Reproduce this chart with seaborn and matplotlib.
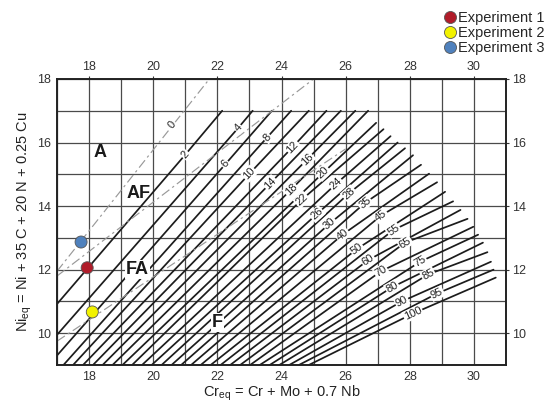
"""
WRC-1992 constitution diagram with three experimental welds
"""
import numpy as np
import pandas as pd
import matplotlib
matplotlib.use("Agg")
import matplotlib.pyplot as plt
import seaborn as sns

sns.set_style("white")
plt.rcParams["font.family"] = ["Liberation Sans", "DejaVu Sans"]
plt.rcParams["mathtext.default"] = "regular"

# ---- data ----
fn_values = [2, 4, 6, 8, 10, 12, 14, 16, 18, 20, 22, 24, 26, 28, 30,
             35, 40, 45, 50, 55, 60, 65, 70, 75, 80, 85, 90, 95, 100]
start_cr = [17.0, 17.0, 17.0, 17.2, 17.5, 17.81, 18.12, 18.42, 18.73, 19.04, 19.34, 19.65, 19.95, 20.26, 20.57,
            20.87, 21.18, 21.48, 21.79, 22.1, 22.4, 22.71, 23.02, 23.32, 23.63, 23.93, 24.24, 24.54, 24.85]
start_ni = [10.92, 9.95, 9.3, 9.0, 9.0, 9.0, 9.0, 9.0, 9.0, 9.0, 9.0, 9.0, 9.0, 9.0, 9.0,
            9.0, 9.0, 9.0, 9.0, 9.0, 9.0, 9.0, 9.0, 9.0, 9.0, 9.0, 9.0, 9.0, 9.0]
label_cr = [21.0, 22.65, 22.25, 23.55, 23.0, 24.35, 23.65, 24.8, 24.3, 25.3, 24.63, 25.7, 25.1, 26.1, 25.5,
            26.6, 25.9, 27.1, 26.35, 27.49, 26.7, 27.85, 27.1, 28.32, 27.45, 28.57, 27.75, 28.85, 28.1]
label_ni = [15.62, 16.46, 15.32, 16.16, 15.02, 15.86, 14.72, 15.47, 14.52, 15.05, 14.2, 14.7, 13.75, 14.4, 13.45,
            14.1, 13.1, 13.7, 12.65, 13.25, 12.3, 12.85, 11.95, 12.25, 11.45, 11.85, 11.0, 11.25, 10.62]
end_cr = [22.15, 23.1, 23.7, 24.3, 24.85, 25.4, 25.85, 26.3, 26.7, 26.95, 27.18, 27.4, 27.62, 27.85, 28.1,
          28.35, 28.6, 28.85, 29.1, 29.35, 29.58, 29.8, 29.98, 30.13, 30.28, 30.42, 30.53, 30.61, 30.68]
end_ni = [17.0, 17.0, 17.0, 17.0, 17.0, 17.0, 17.0, 17.0, 17.0, 16.62, 16.42, 16.2, 16.0, 15.82, 15.6,
          15.3, 15.02, 14.75, 14.45, 14.15, 13.88, 13.6, 13.35, 13.1, 12.85, 12.55, 12.25, 12.0, 11.75]

# dashed phase boundaries (FN 0 / A-AF, AF-FA, FA-F)
boundary_names = ["A/AF", "AF/FA", "FA/F"]
boundary_cr = [[17.0, 21.75], [17.0, 25.0], [17.0, 26.0]]
boundary_ni = [[11.95, 18.0], [11.8, 18.0], [9.75, 15.8]]
zero_label = (20.6, 16.55)

regions = ["A", "AF", "FA", "F"]
region_cr = [18.35, 19.55, 19.5, 22.0]
region_ni = [15.7, 14.4, 12.0, 10.35]
region_boxed = [False, False, True, True]

experiments = ["Experiment 1", "Experiment 2", "Experiment 3"]
exp_cr = [17.94, 18.1, 17.75]
exp_ni = [12.06, 10.67, 12.87]
exp_colors = ["#b01c2a", "#f2f200", "#4f81bd"]

x_ticks = [18, 20, 22, 24, 26, 28, 30]
y_ticks = [10, 12, 14, 16, 18]


def main():
    fig = plt.figure(figsize=(5.52, 4.04), dpi=100)
    ax = fig.add_axes([0.1033, 0.0965, 0.8134, 0.708])
    ax.set_xlim(17, 31)
    ax.set_ylim(9, 18)

    # grid every unit
    ax.set_xticks(x_ticks)
    ax.set_xticks(np.arange(17, 32, 1), minor=True)
    ax.set_yticks(y_ticks)
    ax.set_yticks(np.arange(9, 19, 1), minor=True)
    ax.grid(True, which="both", color="#4a4a4a", lw=0.9, zorder=0)
    ax.set_axisbelow(True)
    ax.tick_params(which="both", top=True, right=True, labeltop=True, labelright=True,
                   direction="out", length=2.5, width=0.8, color="#333333",
                   labelsize=9, labelcolor="#333333", pad=2)
    ax.tick_params(which="minor", length=0)
    for sp in ax.spines.values():
        sp.set_color("#222222")
        sp.set_linewidth(1.4)

    # FN iso-lines
    rows = []
    for i, fn in enumerate(fn_values):
        rows.append((fn, 0, start_cr[i], start_ni[i]))
        rows.append((fn, 1, label_cr[i], label_ni[i]))
        rows.append((fn, 2, end_cr[i], end_ni[i]))
    fn_df = pd.DataFrame(rows, columns=["fn", "order", "cr", "ni"])
    sns.lineplot(data=fn_df, x="cr", y="ni", units="fn", estimator=None, sort=False,
                 color="#1c1c1c", lw=1.25, ax=ax, zorder=2)

    # boundaries
    for name, bx, by in zip(boundary_names, boundary_cr, boundary_ni):
        bdf = pd.DataFrame({"cr": bx, "ni": by})
        sns.lineplot(data=bdf, x="cr", y="ni", sort=False, color="#999999", lw=0.85,
                     ax=ax, zorder=2, linestyle=(0, (8, 3, 2, 3)))

    fig.canvas.draw()

    def disp_angle(p0, p1):
        d0 = ax.transData.transform(p0)
        d1 = ax.transData.transform(p1)
        return np.degrees(np.arctan2(d1[1] - d0[1], d1[0] - d0[0]))

    box = dict(boxstyle="square,pad=0.08", fc="white", ec="none")
    for i, fn in enumerate(fn_values):
        ang = disp_angle((start_cr[i], start_ni[i]), (end_cr[i], end_ni[i]))
        ax.text(label_cr[i], label_ni[i], str(fn), rotation=ang, rotation_mode="anchor",
                ha="center", va="center", fontsize=8, color="#222222", bbox=box, zorder=3)
    ang0 = disp_angle((boundary_cr[0][0], boundary_ni[0][0]), (boundary_cr[0][1], boundary_ni[0][1]))
    ax.text(zero_label[0], zero_label[1], "0", rotation=ang0, rotation_mode="anchor",
            ha="center", va="center", fontsize=8, color="#222222", bbox=box, zorder=3)

    for r, cx, cy, boxed in zip(regions, region_cr, region_ni, region_boxed):
        ax.text(cx, cy, r, ha="center", va="center", fontsize=13, fontweight="bold",
                color="#1a1a1a", zorder=3,
                bbox=dict(boxstyle="square,pad=0.05", fc="white", ec="none") if boxed else None)

    # experiment points
    exp_df = pd.DataFrame({"cr": exp_cr, "ni": exp_ni, "label": experiments})
    sns.scatterplot(data=exp_df, x="cr", y="ni", hue="label", hue_order=experiments,
                    palette=exp_colors, s=75, edgecolor="#555555", linewidth=0.6,
                    ax=ax, zorder=5, legend=True)
    handles, labels = ax.get_legend_handles_labels()
    ax.legend(handles, labels, loc="upper left", bbox_to_anchor=(0.783, 0.995),
              bbox_transform=fig.transFigure, frameon=False, fontsize=10.5,
              handletextpad=0.0, labelspacing=0.08, borderpad=0.1, markerscale=1.0,
              handlelength=1.2)

    ax.set_xlabel(r"Cr$_{eq}$ = Cr + Mo + 0.7 Nb", fontsize=10.5, color="#222222", labelpad=0)
    ax.set_ylabel(r"Ni$_{eq}$ = Ni + 35 C + 20 N + 0.25 Cu", fontsize=10.5, color="#222222", labelpad=2)

    fig.savefig("out.png", dpi=100)
    plt.close(fig)


if __name__ == "__main__":
    main()
